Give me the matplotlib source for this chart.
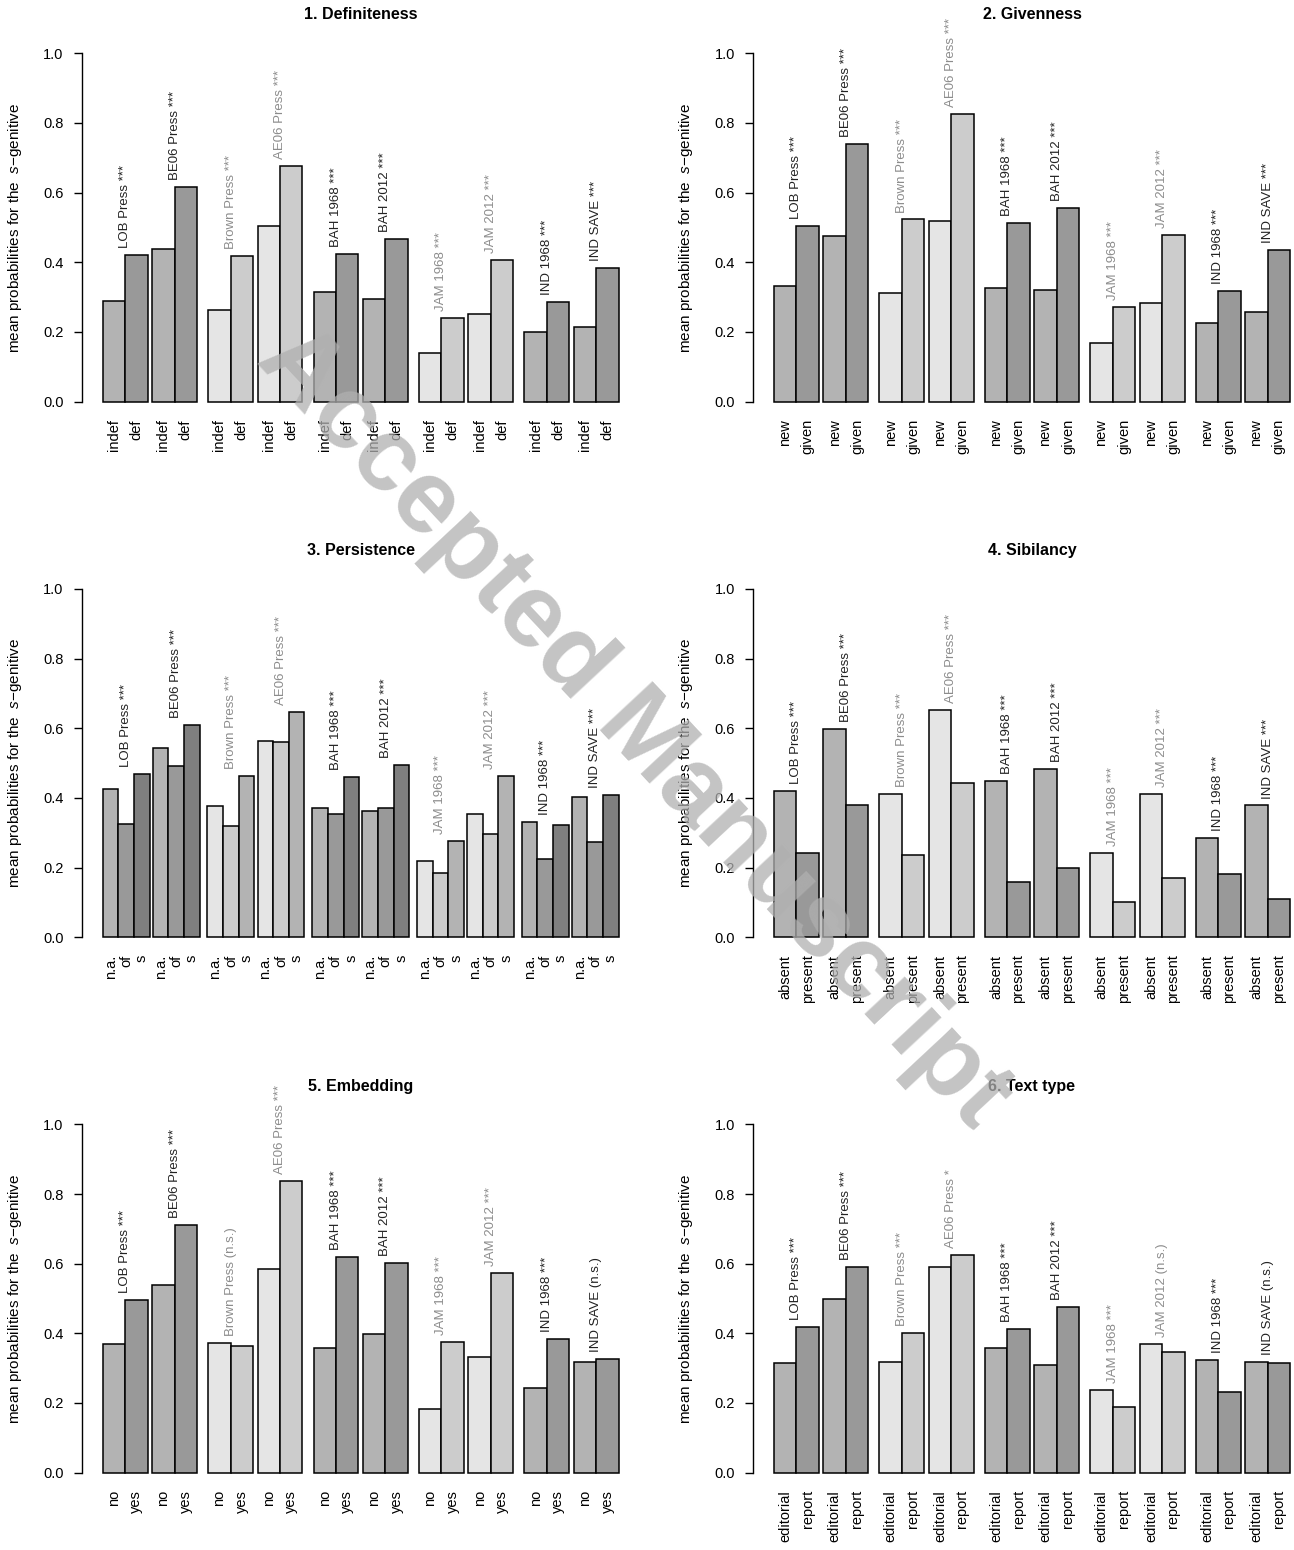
import matplotlib
matplotlib.use("Agg")
import matplotlib.pyplot as plt

plt.rcParams['font.family'] = ['Liberation Sans', 'DejaVu Sans']
plt.rcParams['mathtext.fontset'] = 'custom'
plt.rcParams['mathtext.rm'] = 'Liberation Sans'
plt.rcParams['mathtext.it'] = 'Liberation Sans:italic'

corpora = ["LOB Press", "BE06 Press", "Brown Press", "AE06 Press", "BAH 1968",
           "BAH 2012", "JAM 1968", "JAM 2012", "IND 1968", "IND SAVE"]
# American and Jamaican corpora get the light palette and grey labels
light = [False, False, True, True, False, False, True, True, False, False]

titles = ["1. Definiteness", "2. Givenness", "3. Persistence",
          "4. Sibilancy", "5. Embedding", "6. Text type"]

levels_def = ["indef", "def"]
levels_giv = ["new", "given"]
levels_per = ["n.a.", "of", "s"]
levels_sib = ["absent", "present"]
levels_emb = ["no", "yes"]
levels_txt = ["editorial", "report"]

vals_def = [[0.290, 0.420], [0.439, 0.616], [0.264, 0.417], [0.504, 0.677],
            [0.314, 0.424], [0.295, 0.468], [0.141, 0.241], [0.251, 0.408],
            [0.199, 0.285], [0.213, 0.384]]
vals_giv = [[0.333, 0.503], [0.475, 0.740], [0.313, 0.523], [0.518, 0.826],
            [0.327, 0.513], [0.321, 0.557], [0.167, 0.273], [0.283, 0.479],
            [0.225, 0.319], [0.258, 0.436]]
vals_per = [[0.424, 0.324, 0.469], [0.544, 0.491, 0.608], [0.377, 0.318, 0.462],
            [0.563, 0.561, 0.646], [0.371, 0.355, 0.460], [0.363, 0.372, 0.495],
            [0.219, 0.184, 0.277], [0.355, 0.295, 0.463], [0.331, 0.224, 0.323],
            [0.401, 0.273, 0.409]]
vals_sib = [[0.420, 0.242], [0.599, 0.378], [0.412, 0.235], [0.652, 0.442],
            [0.449, 0.158], [0.482, 0.198], [0.243, 0.101], [0.410, 0.171],
            [0.284, 0.182], [0.378, 0.109]]
vals_emb = [[0.369, 0.497], [0.539, 0.711], [0.373, 0.364], [0.585, 0.836],
            [0.359, 0.618], [0.398, 0.602], [0.183, 0.376], [0.332, 0.574],
            [0.243, 0.383], [0.317, 0.325]]
vals_txt = [[0.316, 0.417], [0.500, 0.590], [0.318, 0.402], [0.591, 0.624],
            [0.359, 0.413], [0.310, 0.476], [0.237, 0.188], [0.370, 0.345],
            [0.324, 0.231], [0.317, 0.316]]

sig_def = ["***"] * 10
sig_giv = ["***"] * 10
sig_per = ["***"] * 10
sig_sib = ["***"] * 10
sig_emb = ["***", "***", "(n.s.)", "***", "***", "***", "***", "***", "***", "(n.s.)"]
sig_txt = ["***", "***", "***", "*", "***", "***", "***", "(n.s.)", "***", "(n.s.)"]

panels = [
    (levels_def, vals_def, sig_def),
    (levels_giv, vals_giv, sig_giv),
    (levels_per, vals_per, sig_per),
    (levels_sib, vals_sib, sig_sib),
    (levels_emb, vals_emb, sig_emb),
    (levels_txt, vals_txt, sig_txt),
]

dark_cols = ["#b3b3b3", "#999999", "#7f7f7f"]
light_cols = ["#e5e5e5", "#cccccc", "#b3b3b3"]

W, H = 1294, 1550
fig = plt.figure(figsize=(W / 100, H / 100), dpi=100)

ax_w = 557.2
ax_h = 376.2
lefts = [82.1, 753.4]
row_top = 39.4
row_step = 535.5

for p, (title, (levels, vals, sig)) in enumerate(zip(titles, panels)):
    r, c = divmod(p, 2)
    top = row_top + r * row_step
    ax = fig.add_axes([lefts[c] / W, 1 - (top + ax_h) / H, ax_w / W, ax_h / H])

    nlev = len(levels)
    x = 0.0
    centers, names = [], []
    for i, corpus in enumerate(corpora):
        if i > 0:
            x += 0.5 if i % 2 == 0 else 0.2
        cols = light_cols if light[i] else dark_cols
        xs = [x + k + 0.5 for k in range(nlev)]
        ax.bar(xs, vals[i], width=1.0, color=cols[:nlev], edgecolor="black",
               linewidth=1.1, zorder=2)
        centers.extend(xs)
        names.extend(levels)
        gx = x + nlev / 2
        ax.text(gx, max(vals[i]) + 0.02, f"{corpus} {sig[i]}", rotation=90,
                ha="center", va="bottom", fontsize=9.5,
                color="#8c8c8c" if light[i] else "#222222")
        x += nlev
    total = x
    ax.set_xlim(-0.04 * total, total * 1.04)
    ax.set_ylim(-0.04, 1.04)

    for s in ["top", "right", "bottom"]:
        ax.spines[s].set_visible(False)
    ax.spines["left"].set_bounds(0, 1)
    ax.spines["left"].set_linewidth(1.0)
    ax.set_yticks([0.0, 0.2, 0.4, 0.6, 0.8, 1.0])
    ax.set_yticklabels(["0.0", "0.2", "0.4", "0.6", "0.8", "1.0"])
    ax.tick_params(axis="y", length=5.8, width=1.0, pad=7.5, labelsize=10.5)
    ax.set_xticks(centers)
    ax.set_xticklabels(names, rotation=90, va="top", ha="center")
    ax.tick_params(axis="x", length=0, pad=2.5, labelsize=10.5)

    ax.set_ylabel("mean probabilities for the  $s$\u2212genitive", fontsize=11)
    ax.yaxis.set_label_coords(-0.104, 0.5)
    ax.text(0.5, 1 + (top - (15 + r * row_step)) / ax_h, title,
            transform=ax.transAxes, ha="center", va="center", fontsize=11.5,
            fontweight="bold", family=["Liberation Sans Narrow", "Liberation Sans"])

fig.text(0.49, 1 - 728 / H, "Accepted Manuscript", rotation=-47, fontsize=75,
         fontweight="bold", color="#b0b0b0", alpha=0.75, ha="center",
         va="center", zorder=10)

fig.savefig("out.png", dpi=100)
